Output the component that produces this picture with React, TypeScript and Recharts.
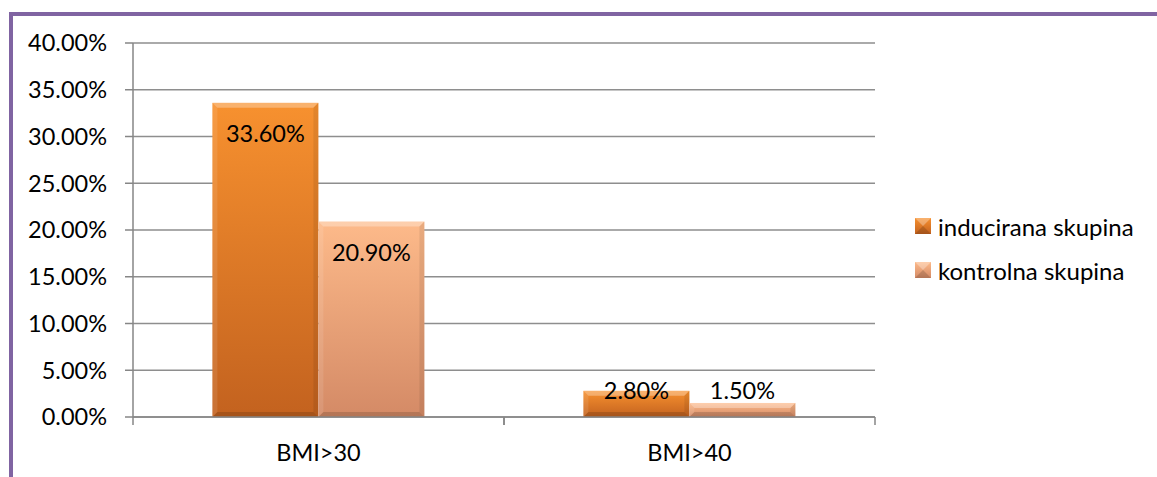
import React from 'react';
import { BarChart, Bar, XAxis, YAxis, CartesianGrid, Legend, LabelList } from 'recharts';

const categories = ['BMI>30', 'BMI>40'];
const inducirana = [33.6, 2.8];
const kontrolna = [20.9, 1.5];
const yTicks = [0, 5, 10, 15, 20, 25, 30, 35, 40];
const seriesNames = ['inducirana skupina', 'kontrolna skupina'];

const data = categories.map((name, i) => ({
  name,
  inducirana: inducirana[i],
  kontrolna: kontrolna[i],
}));

const FONT = 'Lato, "Open Sans", sans-serif';
const FS = 23.5;

const palette = [
  { id: 'gInd', top: '#F7912F', bottom: '#C3621F', icon: '#D06D22' },
  { id: 'gKon', top: '#FDBA8A', bottom: '#D48A66', icon: '#E29C74' },
];

const fmt = (v: number) => `${v.toFixed(2)}%`;

const bevelShape = (gid: string) => (props: any) => {
  const { x, y, width: w, height: h } = props;
  if (!h || h <= 0) return null;
  const b = Math.min(5, h / 2, w / 2);
  return (
    <g>
      <rect x={x} y={y} width={w} height={h} fill={`url(#${gid})`} />
      <polygon points={`${x},${y} ${x + w},${y} ${x + w - b},${y + b} ${x + b},${y + b}`} fill="#fff" fillOpacity={0.3} />
      <polygon points={`${x},${y} ${x + b},${y + b} ${x + b},${y + h - b} ${x},${y + h}`} fill="#fff" fillOpacity={0.1} />
      <polygon points={`${x + w},${y} ${x + w},${y + h} ${x + w - b},${y + h - b} ${x + w - b},${y + b}`} fill="#000" fillOpacity={0.08} />
      <polygon points={`${x},${y + h} ${x + w},${y + h} ${x + w - b},${y + h - b} ${x + b},${y + h - b}`} fill="#000" fillOpacity={0.15} />
    </g>
  );
};

const barLabel = (props: any) => {
  const { x, y, width, height, value } = props;
  const cy = Math.min(y + 30, y + height - 27);
  return (
    <text x={x + width / 2} y={cy} textAnchor="middle" dominantBaseline="central" fontFamily={FONT} fontSize={FS} fill="#000">
      {fmt(value)}
    </text>
  );
};

const XTick = (props: any) => {
  const { x, y, payload } = props;
  const off = payload.offset ?? 0;
  return (
    <g>
      <line x1={x - off} y1={y} x2={x - off} y2={y + 8} stroke="#868686" strokeWidth={1.5} />
      <line x1={x + off} y1={y} x2={x + off} y2={y + 8} stroke="#868686" strokeWidth={1.5} />
      <text x={x} y={y + 35} textAnchor="middle" dominantBaseline="central" fontFamily={FONT} fontSize={FS} fill="#000">
        {payload.value}
      </text>
    </g>
  );
};

const LegendContent = () => (
  <div style={{ fontFamily: FONT, fontSize: 24, color: '#000' }}>
    {seriesNames.map((n, i) => (
      <div key={n} style={{ display: 'flex', alignItems: 'center', height: 44 }}>
        <svg width={16} height={16} style={{ marginRight: 7 }}>
          <defs>
            <linearGradient id={`lg${i}`} x1="0" y1="0" x2="0" y2="1">
              <stop offset="0%" stopColor={palette[i].top} />
              <stop offset="100%" stopColor={palette[i].bottom} />
            </linearGradient>
          </defs>
          <rect x={0} y={0} width={16} height={16} fill={`url(#lg${i})`} />
          <polygon points="0,0 16,0 8,8" fill="#fff" fillOpacity={0.3} />
          <polygon points="0,16 16,16 8,8" fill="#000" fillOpacity={0.15} />
        </svg>
        <span>{n}</span>
      </div>
    ))}
  </div>
);

export default function App() {
  return (
    <div style={{ position: 'absolute', left: 0, top: 0, width: 1157, height: 477, background: '#fff', overflow: 'hidden' }}>
      <div
        style={{
          position: 'absolute',
          left: 9,
          top: 12,
          width: 1148,
          height: 465,
          borderLeft: '4px solid #8064A2',
          borderTop: '4px solid #8064A2',
          boxSizing: 'border-box',
        }}
      />
      <div style={{ position: 'absolute', left: 0, top: 0 }}>
        <BarChart
          width={1157}
          height={477}
          data={data}
          margin={{ top: 43, right: 282, left: 0, bottom: 0 }}
          barCategoryGap="21.4%"
          barGap={0}
        >
          <defs>
            {palette.map((p) => (
              <linearGradient key={p.id} id={p.id} x1="0" y1="0" x2="0" y2="1">
                <stop offset="0%" stopColor={p.top} />
                <stop offset="100%" stopColor={p.bottom} />
              </linearGradient>
            ))}
          </defs>
          <CartesianGrid vertical={false} stroke="#8e8e8e" strokeWidth={1.5} />
          <XAxis
            dataKey="name"
            height={60}
            axisLine={{ stroke: '#868686', strokeWidth: 1.5 }}
            tickLine={false}
            tickSize={0}
            tickMargin={0}
            tick={<XTick />}
            interval={0}
          />
          <YAxis
            width={133}
            domain={[0, 40]}
            ticks={yTicks}
            tickFormatter={fmt}
            axisLine={{ stroke: '#868686', strokeWidth: 1.5 }}
            tickLine={{ stroke: '#868686', strokeWidth: 1.5 }}
            tickSize={8}
            tickMargin={18}
            tick={{ fill: '#000', fontSize: FS, fontFamily: FONT }}
          />
          <Legend
            layout="vertical"
            align="center"
            verticalAlign="middle"
            content={<LegendContent />}
            wrapperStyle={{ left: 915, top: 204, width: 240 }}
          />
          <Bar dataKey="inducirana" name={seriesNames[0]} fill={palette[0].icon} shape={bevelShape('gInd')} isAnimationActive={false}>
            <LabelList dataKey="inducirana" content={barLabel} />
          </Bar>
          <Bar dataKey="kontrolna" name={seriesNames[1]} fill={palette[1].icon} shape={bevelShape('gKon')} isAnimationActive={false}>
            <LabelList dataKey="kontrolna" content={barLabel} />
          </Bar>
        </BarChart>
      </div>
    </div>
  );
}
